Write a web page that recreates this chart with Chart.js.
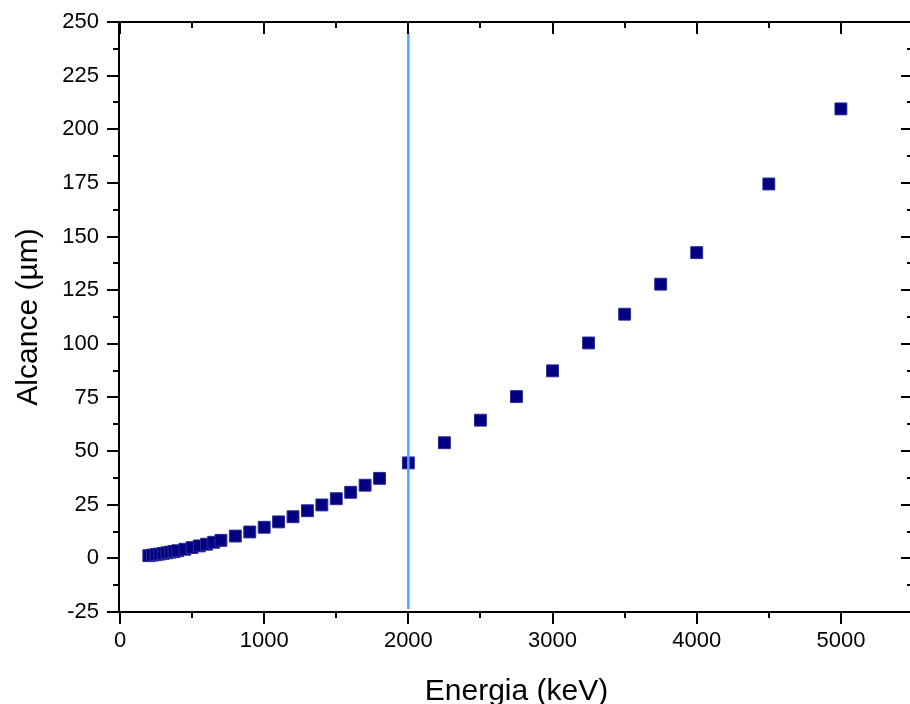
<!DOCTYPE html>
<html>
<head>
<meta charset="utf-8">
<script src="https://cdn.jsdelivr.net/npm/chart.js@4/dist/chart.umd.min.js"></script>
<style>
    html, body { margin: 0; padding: 0; background: #fff; }
    #moldura { position: relative; width: 910px; height: 704px; overflow: hidden; }
    #box { position: absolute; left: 0; top: 0; width: 916px; height: 704px; }
</style>
</head>
<body>
<div id="moldura"><div id="box"><canvas id="alcanceChart"></canvas></div></div>
<script>
// Energias (keV) e alcances (µm) da tabela
const energia = [200, 225, 250, 275, 300, 325, 350, 375, 400, 450, 500, 550, 600, 650, 700,
    800, 900, 1000, 1100, 1200, 1300, 1400, 1500, 1600, 1700, 1800,
    2000, 2250, 2500, 2750, 3000, 3250, 3500, 3750, 4000, 4500, 5000];
const alcance = [1.25, 1.5, 1.75, 2.0, 2.3, 2.6, 2.9, 3.2, 3.55, 4.25, 5.0, 5.8, 6.6, 7.5, 8.4,
    10.4, 12.3, 14.5, 17.0, 19.4, 22.2, 24.9, 27.8, 30.8, 34.1, 37.3,
    44.5, 53.9, 64.4, 75.4, 87.4, 100.4, 113.8, 127.8, 142.5, 174.5, 209.5];

// Linha vertical em 2000 keV
const linhaX = [2000, 2000];
const linhaY = [-23.6, 245];

// Rótulos dos eixos
const xTicks = [0, 1000, 2000, 3000, 4000, 5000];
const yTicks = [-25, 0, 25, 50, 75, 100, 125, 150, 175, 200, 225, 250];

const xMin = 0, xMax = 5500, xPasso = 1000;
const yMin = -25, yMax = 250, yPasso = 25;

const fonte = "'Liberation Sans', Arial, sans-serif";

// Moldura + ticks maiores/menores nos quatro lados
const eixosPlugin = {
    id: 'eixos',
    afterDraw(chart) {
        const ctx = chart.ctx;
        const a = chart.chartArea;
        const sx = chart.scales.x;
        const sy = chart.scales.y;
        ctx.save();
        ctx.strokeStyle = '#000';
        ctx.lineWidth = 2;
        ctx.strokeRect(a.left - 1, a.top, a.right - a.left + 1, a.bottom - a.top);

        ctx.beginPath();
        for (let v = xMin; v <= xMax; v += xPasso / 2) {
            const px = Math.round(sx.getPixelForValue(v));
            const len = v % xPasso === 0 ? 12 : 6;
            ctx.moveTo(px, a.bottom); ctx.lineTo(px, a.bottom + len);
            ctx.moveTo(px, a.top); ctx.lineTo(px, a.top + len);
        }
        for (let v = yMin; v <= yMax; v += yPasso / 2) {
            const py = Math.round(sy.getPixelForValue(v));
            const len = v % yPasso === 0 ? 12 : 6;
            ctx.moveTo(a.left - 1, py); ctx.lineTo(a.left - 1 - len, py);
            ctx.moveTo(a.right, py); ctx.lineTo(a.right - len, py);
        }
        ctx.stroke();
        ctx.restore();
    }
};

// sem folga extra para os rótulos das pontas
function semPadding(s) {
    s.paddingLeft = 0;
    s.paddingRight = 0;
    s.paddingTop = 0;
    s.paddingBottom = 0;
}

function loadAlcanceChart() {
    const pontos = energia.map((e, i) => ({ x: e, y: alcance[i] }));
    const linha = linhaX.map((x, i) => ({ x: x, y: linhaY[i] }));

    const ctx = document.getElementById('alcanceChart').getContext('2d');
    new Chart(ctx, {
        type: 'scatter',
        data: {
            datasets: [
                {
                    type: 'line',
                    label: 'linha',
                    data: linha,
                    borderColor: '#4da6ff',
                    borderWidth: 2.5,
                    pointRadius: 0,
                    showLine: true
                },
                {
                    label: 'Alcance',
                    data: pontos,
                    pointStyle: 'rect',
                    pointRadius: 8.4,
                    pointHoverRadius: 8.4,
                    backgroundColor: '#000080',
                    borderColor: '#2a2a96',
                    borderWidth: 1
                }
            ]
        },
        options: {
            responsive: true,
            maintainAspectRatio: false,
            animation: false,
            devicePixelRatio: 1,
            layout: { autoPadding: false, padding: { top: 22, right: 3, left: 0, bottom: 0 } },
            scales: {
                x: {
                    type: 'linear',
                    min: xMin,
                    max: xMax,
                    afterBuildTicks: s => { s.ticks = xTicks.map(v => ({ value: v })); },
                    afterFit: s => { s.height = 92; semPadding(s); },
                    grid: { display: false, drawTicks: false },
                    border: { display: false },
                    ticks: {
                        padding: 16,
                        color: '#000',
                        maxRotation: 0,
                        autoSkip: false,
                        callback: v => String(v),
                        font: { family: fonte, size: 22 }
                    },
                    title: {
                        display: true,
                        text: 'Energia (keV)',
                        color: '#000',
                        padding: { top: 0, bottom: -3 },
                        font: { family: fonte, size: 30, lineHeight: 1 }
                    }
                },
                y: {
                    min: yMin,
                    max: yMax,
                    afterBuildTicks: s => { s.ticks = yTicks.map(v => ({ value: v })); },
                    afterFit: s => { s.width = 120; semPadding(s); },
                    grid: { display: false, drawTicks: false },
                    border: { display: false },
                    ticks: {
                        padding: 21,
                        color: '#000',
                        autoSkip: false,
                        callback: v => String(v),
                        font: { family: fonte, size: 22 }
                    },
                    title: {
                        display: true,
                        text: 'Alcance (µm)',
                        color: '#000',
                        padding: { top: 14, bottom: 0 },
                        font: { family: fonte, size: 30, lineHeight: 1 }
                    }
                }
            },
            plugins: {
                legend: { display: false },
                tooltip: { enabled: false }
            }
        },
        plugins: [eixosPlugin]
    });
}

document.addEventListener("DOMContentLoaded", function () {
    loadAlcanceChart();
});
</script>
</body>
</html>
